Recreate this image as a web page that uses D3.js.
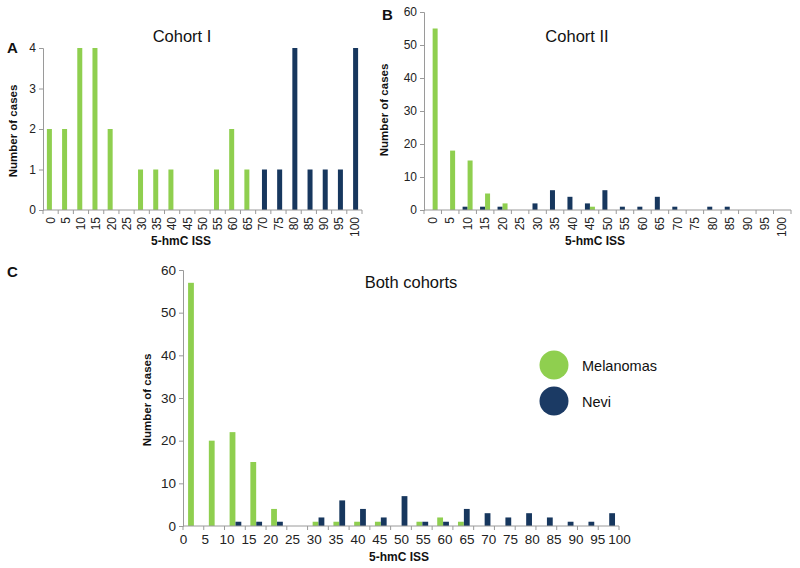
<!DOCTYPE html>
<html>
<head>
<meta charset="utf-8">
<script src="https://cdn.jsdelivr.net/npm/d3@7"></script>
<style>
  html, body { margin: 0; padding: 0; background: #fff; }
  svg { display: block; font-family: "Liberation Sans", Arial, Helvetica, sans-serif; }
</style>
</head>
<body>
<svg id="chart" width="800" height="568"></svg>
<script>
// ---- data ----
const categories = [0,5,10,15,20,25,30,35,40,45,50,55,60,65,70,75,80,85,90,95,100];
const seriesNames = ["Melanomas", "Nevi"];

// Cohort I
const cohort1Melanomas = [2,2,4,4,2,0,1,1,1,0,0,1,2,1,0,0,0,0,0,0,0];
const cohort1Nevi      = [0,0,0,0,0,0,0,0,0,0,0,0,0,0,1,1,4,1,1,1,4];
const cohort1YTicks = [0,1,2,3,4];

// Cohort II
const cohort2Melanomas = [55,18,15,5,2,0,0,0,0,1,0,0,0,0,0,0,0,0,0,0,0];
const cohort2Nevi      = [0,0,1,1,1,0,2,6,4,2,6,1,1,4,1,0,1,1,0,0,0];
const cohort2YTicks = [0,10,20,30,40,50,60];

// Both cohorts
const bothMelanomas = [57,20,22,15,4,0,1,1,1,1,0,1,2,1,0,0,0,0,0,0,0];
const bothNevi      = [0,0,1,1,1,0,2,6,4,2,7,1,1,4,3,2,3,2,1,1,3];
const bothYTicks = [0,10,20,30,40,50,60];
const bothXLabels = [0,5,10,15,20,25,30,35,40,45,50,55,60,65,70,75,80,85,90,95,100];

const colors = { "Melanomas": "#8fcf4f", "Nevi": "#17375e" };
const axisColor = "#9a9a9a";

const svg = d3.select("#chart");

function panel(cfg) {
  const g = svg.append("g");
  const x = d3.scaleBand().domain(categories).range([cfg.x0, cfg.x1]);
  const y = d3.scaleLinear().domain([0, cfg.yMax]).range([cfg.y0, cfg.y1]);
  const sub = d3.scalePoint().domain(cfg.order).range(cfg.subRange);
  const data = cfg.order.map(s => ({ name: s, values: cfg.values[s] }));

  // bars
  data.forEach(s => {
    g.append("g").selectAll("rect")
      .data(categories.map((c, i) => ({ c, v: s.values[i] })).filter(d => d.v > 0))
      .join("rect")
      .attr("x", d => x(d.c) + x.bandwidth() / 2 + sub(s.name) - cfg.barW / 2)
      .attr("width", cfg.barW)
      .attr("y", d => y(d.v))
      .attr("height", d => y(0) - y(d.v))
      .attr("fill", colors[s.name]);
  });

  // y axis
  const ya = g.append("g").attr("transform", `translate(${cfg.x0},0)`)
    .call(d3.axisLeft(y).tickValues(cfg.yTicks).tickFormat(d3.format("d")).tickSize(4).tickPadding(3));
  ya.select(".domain").attr("stroke", axisColor);
  ya.selectAll(".tick line").attr("stroke", axisColor);
  ya.selectAll(".tick text").attr("fill", "#222").style("font-size", cfg.yFont + "px");

  // x axis baseline
  g.append("line").attr("x1", cfg.x0).attr("x2", cfg.x1)
    .attr("y1", y(0)).attr("y2", y(0)).attr("stroke", axisColor);
  // tick marks at category boundaries
  const bounds = categories.map(c => x(c)).concat([cfg.x1]);
  g.append("g").selectAll("line").data(bounds).join("line")
    .attr("x1", d => d).attr("x2", d => d)
    .attr("y1", y(0)).attr("y2", y(0) + 4).attr("stroke", axisColor);

  if (cfg.rotated) {
    const xa = g.append("g").attr("transform", `translate(0,${y(0)})`)
      .call(d3.axisBottom(x).tickSize(0).tickPadding(0));
    xa.select(".domain").remove();
    xa.selectAll(".tick text")
      .attr("fill", "#222")
      .style("font-size", "12px")
      .attr("text-anchor", "end")
      .attr("dy", "0.35em")
      .attr("transform", "translate(0,7) rotate(-90)");
  } else {
    const xl = d3.scaleLinear().domain([0, 100]).range([cfg.x0, cfg.x1]);
    const xa = g.append("g").attr("transform", `translate(0,${y(0)})`)
      .call(d3.axisBottom(xl).tickValues(bothXLabels).tickSize(0).tickPadding(8));
    xa.select(".domain").remove();
    xa.selectAll(".tick text").attr("fill", "#222").style("font-size", "13.5px");
  }

  // axis titles
  g.append("text").attr("x", cfg.xTitleX).attr("y", cfg.xTitleY)
    .attr("text-anchor", "middle").attr("font-weight", "bold")
    .style("font-size", "12px").attr("fill", "#111").text("5-hmC ISS");
  g.append("text")
    .attr("transform", `translate(${cfg.yTitleX},${cfg.yTitleY}) rotate(-90)`)
    .attr("text-anchor", "middle").attr("font-weight", "bold")
    .style("font-size", "11.5px").attr("fill", "#111").text("Number of cases");
  // panel title
  g.append("text").attr("x", cfg.titleX).attr("y", cfg.titleY)
    .attr("text-anchor", "middle").style("font-size", "16.5px").attr("fill", "#111")
    .text(cfg.title);
  // panel letter
  g.append("text").attr("x", cfg.letterX).attr("y", cfg.letterY)
    .attr("font-weight", "bold").style("font-size", "15px").attr("fill", "#111")
    .text(cfg.letter);
}

panel({
  x0: 43, x1: 362, y0: 210, y1: 48, yMax: 4, yTicks: cohort1YTicks, yFont: 12,
  order: ["Melanomas", "Nevi"], subRange: [-1.2, 1.2], barW: 5,
  values: { "Melanomas": cohort1Melanomas, "Nevi": cohort1Nevi },
  rotated: true,
  xTitleX: 181, xTitleY: 245, yTitleX: 17, yTitleY: 131,
  title: "Cohort I", titleX: 182, titleY: 42,
  letter: "A", letterX: 7, letterY: 53
});

panel({
  x0: 424, x1: 791, y0: 210, y1: 12, yMax: 60, yTicks: cohort2YTicks, yFont: 12,
  order: ["Nevi", "Melanomas"], subRange: [-2.6, 2.4], barW: 5,
  values: { "Melanomas": cohort2Melanomas, "Nevi": cohort2Nevi },
  rotated: true,
  xTitleX: 595, xTitleY: 245, yTitleX: 388, yTitleY: 110,
  title: "Cohort II", titleX: 577, titleY: 42,
  letter: "B", letterX: 382, letterY: 20
});

panel({
  x0: 183, x1: 619, y0: 526, y1: 270, yMax: 60, yTicks: bothYTicks, yFont: 13.5,
  order: ["Melanomas", "Nevi"], subRange: [-2.4, 3.5], barW: 5.8,
  values: { "Melanomas": bothMelanomas, "Nevi": bothNevi },
  rotated: false,
  xTitleX: 399, xTitleY: 561, yTitleX: 151, yTitleY: 400,
  title: "Both cohorts", titleX: 411, titleY: 288,
  letter: "C", letterX: 7, letterY: 277
});

// legend
const legend = svg.append("g");
seriesNames.forEach((s, i) => {
  const cy = 365 + i * 36;
  legend.append("circle").attr("cx", 554).attr("cy", cy).attr("r", 14.5).attr("fill", s === "Nevi" ? "#1b3a64" : colors[s]);
  legend.append("text").attr("x", 582).attr("y", cy + 5.5)
    .style("font-size", "14.5px").attr("fill", "#111").text(s);
});
</script>
</body>
</html>
